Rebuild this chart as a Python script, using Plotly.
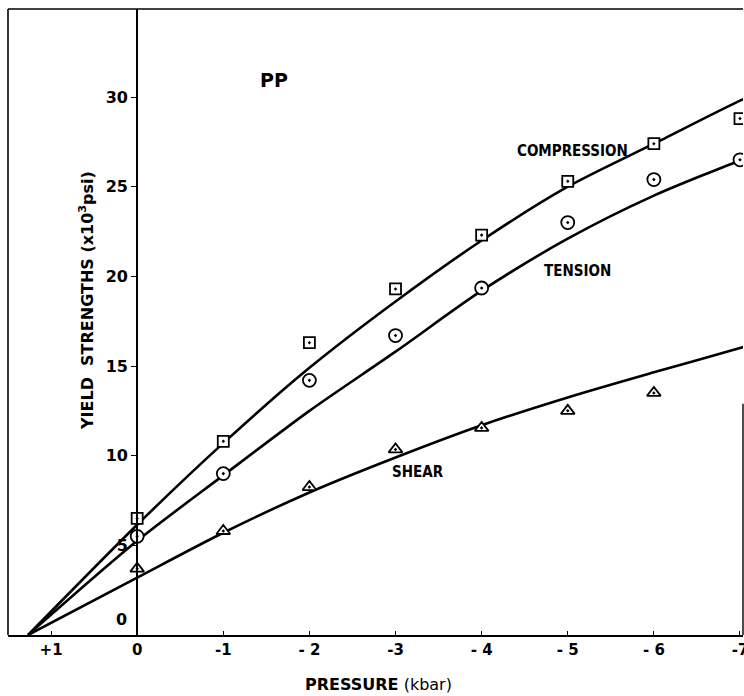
import plotly.graph_objects as go

# ---- data ----
pressure_pts = [0, -1, -2, -3, -4, -5, -6, -7]
compression_pts = [6.5, 10.8, 16.3, 19.3, 22.3, 25.3, 27.4, 28.8]
tension_pts = [5.5, 9.0, 14.2, 16.7, 19.35, 23.0, 25.4, 26.5]
shear_x = [0, -1, -2, -3, -4, -5, -6]
shear_pts = [3.7, 5.8, 8.25, 10.35, 11.55, 12.5, 13.5]

curve_x = [1.267, 0, -1, -2, -3, -4, -5, -6, -7, -7.1]
compression_curve = [0, 6.15, 10.7, 14.9, 18.6, 22.0, 25.0, 27.4, 29.8, 30.0]
tension_curve = [0, 5.25, 8.9, 12.5, 15.8, 19.2, 22.1, 24.5, 26.45, 26.6]
shear_curve = [0, 3.2, 5.7, 7.95, 9.9, 11.7, 13.25, 14.65, 16.0, 16.15]

x_tickvals = [1, 0, -1, -2, -3, -4, -5, -6, -7]
x_ticktext = ["+1", "0", "-1", "- 2", "-3", "- 4", "- 5", "- 6", "-7"]
y_tickvals = [5, 10, 15, 20, 25, 30]
y_ticktext = ["5", "10", "15", "20", "25", "30"]

X_MIN, X_MAX = 1.5, -7.035
Y_MIN, Y_MAX = 0, 34.91

fig = go.Figure()

for ys in (compression_curve, tension_curve, shear_curve):
    fig.add_trace(go.Scatter(x=curve_x, y=ys, mode="lines",
                             line=dict(color="black", width=2.6, shape="spline", smoothing=0.8),
                             showlegend=False, hoverinfo="skip"))

fig.add_trace(go.Scatter(x=pressure_pts, y=compression_pts, mode="markers", name="Compression",
                         marker=dict(symbol="square-dot", size=11, color="white",
                                     line=dict(color="black", width=1.8)), showlegend=False))
fig.add_trace(go.Scatter(x=pressure_pts, y=tension_pts, mode="markers", name="Tension",
                         marker=dict(symbol="circle-dot", size=13, color="white",
                                     line=dict(color="black", width=1.8)), showlegend=False))
fig.add_trace(go.Scatter(x=shear_x, y=shear_pts, mode="markers", name="Shear",
                         marker=dict(symbol="triangle-up-dot", size=12, color="white",
                                     line=dict(color="black", width=1.8)), showlegend=False))

bold_font = dict(family="DejaVu Sans", size=16, color="black", weight="bold")
cond_font = dict(family="DejaVu Sans Condensed, DejaVu Sans", size=15, color="black", weight="bold")

annotations = [
    dict(x=-5.06, y=27.0, text="COMPRESSION", font=cond_font),
    dict(x=-5.11, y=20.3, text="TENSION", font=cond_font),
    dict(x=-3.26, y=9.1, text="SHEAR", font=cond_font),
    dict(x=-1.59, y=30.95, text="PP", font=dict(family="DejaVu Sans", size=19, color="black", weight="bold")),
    dict(x=0.1, y=0.85, text="0", xanchor="right", font=bold_font),
]
for a in annotations:
    a.update(xref="x", yref="y", showarrow=False)
    a.setdefault("xanchor", "center")
    a.setdefault("yanchor", "middle")

# axis titles placed as paper annotations
annotations.append(dict(x=(378 - 8) / 735, y=(635 - 684) / 626, xref="paper", yref="paper",
                        text="<b>PRESSURE</b> (kbar)", showarrow=False,
                        xanchor="center", yanchor="middle",
                        font=dict(family="DejaVu Sans", size=16, color="black")))
annotations.append(dict(x=(87 - 8) / 735, y=(635 - 301) / 626, xref="paper", yref="paper",
                        text="YIELD  STRENGTHS (x10<sup>3</sup>psi)", showarrow=False,
                        textangle=-90, xanchor="center", yanchor="middle",
                        font=dict(family="DejaVu Sans", size=16, color="black", weight="bold")))

fig.update_layout(
    width=744, height=696,
    margin=dict(l=8, r=1, t=9, b=61),
    plot_bgcolor="white", paper_bgcolor="white",
    showlegend=False,
    annotations=annotations,
    xaxis=dict(range=[X_MIN, X_MAX], tickvals=x_tickvals, ticktext=x_ticktext, automargin=False,
               ticklabeloverflow="allow",
               showgrid=False, zeroline=False, showline=True, linecolor="black", linewidth=1.6,
               ticks="inside", ticklen=4, tickwidth=1.4, tickcolor="black",
               tickfont=dict(family="DejaVu Sans", size=15, color="black", weight="bold")),
    yaxis=dict(range=[Y_MIN, Y_MAX], tickvals=y_tickvals, ticktext=y_ticktext, automargin=False,
               anchor="free", position=(137 - 8) / (743 - 8),
               showgrid=False, zeroline=False, showline=True, linecolor="black", linewidth=1.6,
               ticks="outside", ticklen=5, tickwidth=1.4, tickcolor="black",
               tickfont=dict(family="DejaVu Sans", size=16, color="black", weight="bold")),
    shapes=[
        dict(type="line", xref="paper", yref="paper", x0=0, x1=0, y0=0, y1=1,
             line=dict(color="black", width=1.6)),
        dict(type="line", xref="paper", yref="paper", x0=0, x1=1, y0=1, y1=1,
             line=dict(color="black", width=1.6)),
        dict(type="line", xref="paper", yref="y", x0=1, x1=1, y0=0, y1=12.9,
             line=dict(color="black", width=1.4)),
    ],
)

fig.write_html("out.html", config={"displayModeBar": False},
               post_script="document.body.style.margin='0';document.body.style.overflow='hidden';")
